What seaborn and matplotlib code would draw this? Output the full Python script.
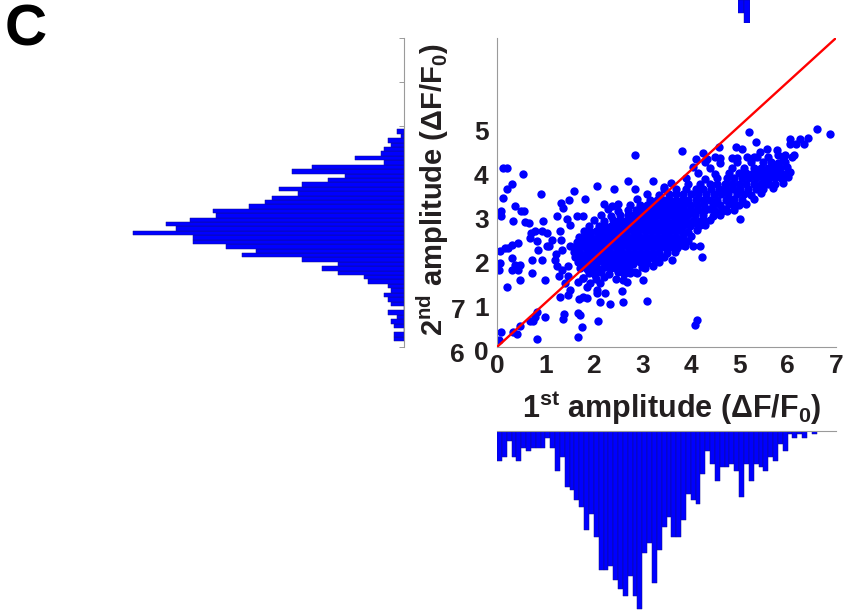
import numpy as np
import matplotlib
matplotlib.use("Agg")
import matplotlib.pyplot as plt
import matplotlib.transforms as mtransforms
import seaborn as sns

# ---------------- data ----------------
# histogram of 1st amplitude (bins of 0.1 from 0)
bottom_counts = [9, 8, 3, 8, 9, 5, 6, 5, 5, 5, 2, 5, 12, 8, 17, 18, 21, 23, 30, 25,
                 32, 42, 42, 41, 45, 48, 50, 44, 50, 54, 37, 34, 46, 36, 29, 26, 32, 32, 27, 19,
                 21, 22, 13, 6, 10, 15, 11, 11, 10, 12, 20, 10, 15, 10, 11, 12, 8, 9, 4, 6,
                 1, 2, 1, 2, 0, 1]
# histogram of 2nd amplitude (bins of 0.1 from 0.13, low to high)
left_counts = [3, 3, 0, 3, 4, 2, 5, 0, 4, 5, 6, 4, 5, 11, 12, 20, 25, 20, 31, 49,
               45, 54, 64, 64, 82, 69, 72, 65, 57, 58, 47, 42, 40, 32, 38, 31, 23, 18, 34, 28,
               6, 15, 7, 6, 4, 5, 1, 2]
top_counts = [4, 7]

cluster_pts = [
    (1.78, 1.57), (2.05, 1.53), (2.20, 1.58), (2.45, 1.55), (2.60, 1.52),
    (1.90, 1.68), (2.02, 1.64), (2.15, 1.70), (2.32, 1.66), (2.50, 1.69), (2.62, 1.65), (2.85, 1.70),
    (1.72, 1.80), (1.85, 1.76), (1.98, 1.79), (2.10, 1.77), (2.22, 1.81), (2.36, 1.78), (2.48, 1.76),
    (2.60, 1.80), (2.73, 1.77), (3.05, 1.79),
    (1.68, 1.92), (1.80, 1.89), (1.92, 1.90), (2.05, 1.88), (2.18, 1.92), (2.30, 1.90), (2.43, 1.89),
    (2.55, 1.91), (2.68, 1.90), (2.80, 1.88), (2.95, 1.92), (3.10, 1.90), (3.35, 1.93),
    (1.62, 2.03), (1.75, 2.01), (1.88, 2.02), (2.00, 2.02), (2.12, 2.02), (2.25, 2.02), (2.38, 2.02),
    (2.50, 2.02), (2.63, 2.02), (2.76, 2.02), (2.88, 2.02), (3.00, 2.02), (3.12, 2.04), (3.25, 2.00),
    (3.45, 2.05),
    (1.60, 2.15), (1.72, 2.13), (1.85, 2.14), (1.97, 2.14), (2.10, 2.14), (2.22, 2.14), (2.35, 2.14),
    (2.47, 2.14), (2.60, 2.14), (2.72, 2.14), (2.85, 2.14), (2.97, 2.14), (3.10, 2.14), (3.22, 2.14),
    (3.35, 2.14), (3.50, 2.12), (3.68, 2.16),
    (1.58, 2.26), (1.70, 2.27), (1.82, 2.26), (1.95, 2.26), (2.07, 2.26), (2.20, 2.26), (2.32, 2.26),
    (2.45, 2.26), (2.57, 2.26), (2.70, 2.26), (2.82, 2.26), (2.95, 2.26), (3.07, 2.26), (3.20, 2.26),
    (3.32, 2.26), (3.45, 2.26), (3.58, 2.26), (3.72, 2.25), (3.88, 2.28),
    (1.65, 2.38), (1.77, 2.39), (1.90, 2.38), (2.02, 2.38), (2.15, 2.38), (2.27, 2.38), (2.40, 2.38),
    (2.52, 2.38), (2.65, 2.38), (2.77, 2.38), (2.90, 2.38), (3.02, 2.38), (3.15, 2.38), (3.27, 2.38),
    (3.40, 2.38), (3.52, 2.38), (3.65, 2.38), (3.80, 2.37), (3.95, 2.40),
    (1.70, 2.50), (1.83, 2.51), (1.95, 2.50), (2.08, 2.50), (2.20, 2.50), (2.33, 2.50), (2.45, 2.50),
    (2.58, 2.50), (2.70, 2.50), (2.83, 2.50), (2.95, 2.50), (3.08, 2.50), (3.20, 2.50), (3.33, 2.50),
    (3.45, 2.50), (3.58, 2.50), (3.70, 2.50), (3.85, 2.49), (4.00, 2.52),
    (1.80, 2.63), (1.92, 2.61), (2.05, 2.62), (2.17, 2.62), (2.30, 2.62), (2.42, 2.62), (2.55, 2.62),
    (2.67, 2.62), (2.80, 2.62), (2.92, 2.62), (3.05, 2.62), (3.17, 2.62), (3.30, 2.62), (3.42, 2.62),
    (3.55, 2.62), (3.67, 2.62), (3.80, 2.62), (3.95, 2.61), (4.12, 2.64),
    (1.90, 2.75), (2.10, 2.73), (2.22, 2.74), (2.35, 2.74), (2.47, 2.74), (2.60, 2.74), (2.72, 2.74),
    (2.85, 2.74), (2.97, 2.74), (3.10, 2.74), (3.22, 2.74), (3.35, 2.74), (3.47, 2.74), (3.60, 2.74),
    (3.72, 2.74), (3.85, 2.74), (3.98, 2.74), (4.15, 2.73), (4.30, 2.76),
    (2.00, 2.88), (2.20, 2.85), (2.40, 2.87), (2.52, 2.86), (2.65, 2.86), (2.77, 2.86), (2.90, 2.86),
    (3.02, 2.86), (3.15, 2.86), (3.27, 2.86), (3.40, 2.86), (3.52, 2.86), (3.65, 2.86), (3.77, 2.86),
    (3.90, 2.86), (4.05, 2.86), (4.20, 2.85), (4.40, 2.88),
    (2.15, 2.99), (2.35, 2.97), (2.55, 2.98), (2.70, 2.98), (2.82, 2.98), (2.95, 2.98), (3.07, 2.98),
    (3.20, 2.98), (3.32, 2.98), (3.45, 2.98), (3.57, 2.98), (3.70, 2.98), (3.82, 2.98), (3.95, 2.98),
    (4.08, 2.98), (4.25, 2.98), (4.45, 2.97), (4.60, 3.00),
    (2.30, 3.12), (2.50, 3.09), (2.70, 3.11), (2.88, 3.10), (3.00, 3.10), (3.12, 3.10), (3.25, 3.10),
    (3.37, 3.10), (3.50, 3.10), (3.62, 3.10), (3.75, 3.10), (3.87, 3.10), (4.00, 3.10), (4.15, 3.10),
    (4.30, 3.10), (4.50, 3.09), (4.70, 3.12), (4.90, 3.10),
    (2.20, 3.24), (2.38, 3.20), (2.50, 3.23), (2.75, 3.21), (2.95, 3.22), (3.10, 3.22), (3.22, 3.22),
    (3.35, 3.22), (3.47, 3.22), (3.60, 3.22), (3.72, 3.22), (3.85, 3.22), (3.98, 3.22), (4.12, 3.22),
    (4.28, 3.22), (4.45, 3.22), (4.60, 3.21), (4.80, 3.24), (5.00, 3.22), (5.15, 3.25),
    (2.90, 3.35), (3.15, 3.33), (3.30, 3.34), (3.45, 3.34), (3.57, 3.34), (3.70, 3.34), (3.82, 3.34),
    (3.95, 3.34), (4.10, 3.34), (4.25, 3.34), (4.40, 3.34), (4.55, 3.34), (4.72, 3.33), (4.90, 3.35),
    (5.05, 3.34), (5.30, 3.36),
    (3.10, 3.47), (3.35, 3.45), (3.55, 3.46), (3.70, 3.46), (3.85, 3.46), (4.00, 3.46), (4.15, 3.46),
    (4.32, 3.46), (4.48, 3.46), (4.62, 3.46), (4.78, 3.46), (4.95, 3.46), (5.10, 3.46), (5.25, 3.45),
    (5.45, 3.48),
    (3.45, 3.59), (3.70, 3.57), (3.90, 3.58), (4.10, 3.58), (4.25, 3.58), (4.42, 3.58), (4.58, 3.58),
    (4.72, 3.58), (4.88, 3.58), (5.02, 3.58), (5.18, 3.58), (5.35, 3.58), (5.50, 3.57), (5.70, 3.60),
    (3.60, 3.71), (3.95, 3.69), (4.20, 3.70), (4.40, 3.70), (4.55, 3.70), (4.70, 3.70), (4.85, 3.70),
    (5.00, 3.70), (5.15, 3.70), (5.30, 3.70), (5.45, 3.70), (5.60, 3.70), (5.75, 3.69), (5.90, 3.72),
    (3.90, 3.83), (4.30, 3.81), (4.55, 3.82), (4.75, 3.82), (4.90, 3.82), (5.05, 3.82), (5.20, 3.82),
    (5.35, 3.82), (5.50, 3.82), (5.62, 3.82), (5.75, 3.82), (5.88, 3.81), (6.00, 3.84),
    (4.15, 3.95), (4.50, 3.93), (4.80, 3.94), (5.00, 3.94), (5.15, 3.94), (5.28, 3.94), (5.42, 3.94),
    (5.55, 3.94), (5.68, 3.94), (5.80, 3.94), (5.92, 3.93), (6.05, 3.96),
    (4.05, 4.07), (4.40, 4.05), (4.85, 4.06), (5.10, 4.06), (5.30, 4.06), (5.45, 4.06), (5.60, 4.06),
    (5.72, 4.06), (5.85, 4.05), (5.98, 4.08),
    (4.30, 4.19), (4.60, 4.17), (4.95, 4.18), (5.25, 4.18), (5.50, 4.18), (5.65, 4.18), (5.80, 4.17),
    (5.95, 4.20),
    (4.50, 4.31), (4.85, 4.29), (5.30, 4.30), (5.60, 4.31), (5.90, 4.29), (6.10, 4.30),
]

outlier_pts = [
    (5.21, 4.88), (6.60, 4.93), (6.88, 4.82), (6.04, 4.72), (6.26, 4.72), (6.43, 4.73), (6.33, 4.61),
    (6.18, 4.59), (6.05, 4.59), (5.34, 4.64), (4.94, 4.54), (5.06, 4.49), (4.58, 4.54), (3.83, 4.44),
    (2.84, 4.36), (4.26, 4.39), (4.10, 4.25), (4.33, 4.27), (4.61, 4.29), (4.95, 4.29), (5.16, 4.30),
    (5.37, 4.31), (5.57, 4.49), (5.43, 4.42), (5.78, 4.46), (5.81, 4.34), (5.95, 4.34), (6.14, 4.34),
    (6.01, 3.93), (5.78, 3.89), (5.60, 3.73), (5.02, 2.90), (4.04, 2.28), (4.19, 2.28), (4.23, 2.03),
    (3.61, 1.98), (3.23, 3.76), (2.71, 3.76), (2.42, 3.57), (2.06, 3.64), (1.59, 3.53), (1.82, 3.36),
    (1.49, 3.33), (1.32, 3.27), (0.90, 3.46), (0.54, 3.91), (0.13, 4.06), (0.21, 4.06), (0.32, 3.70),
    (0.21, 3.57), (0.13, 3.38), (0.37, 3.20), (0.49, 3.08), (0.56, 3.08), (0.08, 3.08), (0.08, 2.96),
    (0.34, 2.85), (0.58, 2.83), (0.67, 2.81), (0.70, 2.58), (0.79, 2.62), (0.92, 2.62), (1.03, 2.58),
    (0.96, 2.85), (1.30, 2.62), (1.44, 2.89), (1.51, 2.77), (1.65, 2.96), (1.78, 2.96), (1.23, 2.96),
    (1.37, 3.15), (1.13, 2.43), (1.08, 2.28), (1.32, 2.43), (1.34, 2.19), (1.21, 2.11), (1.51, 2.28),
    (1.20, 1.98), (1.23, 1.83), (1.34, 1.75), (1.47, 1.83), (1.27, 1.60), (1.47, 1.60), (1.40, 1.45),
    (1.30, 1.14), (1.47, 1.18), (1.51, 1.30), (1.68, 1.48), (1.78, 1.56), (1.92, 1.45), (1.85, 1.37),
    (1.70, 1.08), (1.78, 1.14), (1.85, 1.11), (2.06, 1.22), (2.06, 1.30), (2.13, 1.45), (2.23, 1.22),
    (2.33, 0.98), (2.13, 1.01), (2.58, 1.26), (2.61, 1.03), (2.68, 1.48), (3.02, 1.51), (3.09, 1.05),
    (2.75, 1.67), (2.89, 1.67), (2.99, 1.81), (3.23, 1.83), (3.33, 1.98), (4.13, 0.61), (4.08, 0.50),
    (1.68, 0.78), (1.71, 0.73), (1.38, 0.75), (1.37, 0.64), (1.75, 0.46), (1.68, 0.23), (2.09, 0.58),
    (0.99, 0.67), (0.79, 0.67), (0.82, 0.80), (0.74, 0.58), (0.48, 0.48), (0.68, 0.58), (0.41, 0.30),
    (0.34, 0.35), (0.08, 0.35), (0.05, 0.16), (0.82, 0.17), (0.06, 2.17), (0.06, 1.90), (0.05, 1.75),
    (0.17, 2.24), (0.23, 2.24), (0.30, 2.30), (0.44, 2.36), (0.30, 2.02), (0.37, 1.86), (0.48, 1.86),
    (0.32, 1.75), (0.44, 1.75), (0.48, 1.52), (0.20, 1.37), (0.72, 1.67), (0.72, 1.98), (0.85, 2.20),
    (0.99, 1.52), (0.92, 1.98), (1.04, 2.28), (0.82, 2.39), (0.68, 2.47), (4.40, 3.13), (4.26, 2.89),
    (4.19, 2.77), (4.09, 2.81), (3.82, 2.32), (3.51, 2.58), (3.71, 2.43), (4.77, 3.36), (4.64, 3.08),
    (4.75, 3.08), (4.92, 3.19), (3.44, 3.63), (2.85, 3.58),
]

amp1 = [p[0] for p in cluster_pts + outlier_pts]
amp2 = [p[1] for p in cluster_pts + outlier_pts]
unity = [0, 7]
x_ticks = [0, 1, 2, 3, 4, 5, 6, 7]
y_ticks = [0, 1, 2, 3, 4, 5]
ghost_ticks = [6, 7]

bin_w = 0.1
bottom_start = 0.0
left_start = 0.13

# ---------------- style ----------------
sns.set_theme(style="white")
plt.rcParams["font.family"] = ["Liberation Sans", "DejaVu Sans"]
plt.rcParams["font.weight"] = "bold"
plt.rcParams["mathtext.default"] = "regular"

BLUE = "#0000FF"
EDGE = "#10108a"
SPINE = "#9a9a9a"
TXT = "#231F20"
TICK_FS = 19
XLABEL_FS = 22
YLABEL_FS = 21

W, H = 843, 614
fig = plt.figure(figsize=(W / 100, H / 100), dpi=100)


def px_axes(l, t, r, b):
    return fig.add_axes([l / W, 1 - b / H, (r - l) / W, (b - t) / H])


# ---------------- scatter ----------------
ax = px_axes(497, 38, 836, 347)
sns.scatterplot(x=amp1, y=amp2, ax=ax, color=BLUE, s=36, linewidth=0, zorder=2)
sns.lineplot(x=unity, y=unity, ax=ax, color="red", linewidth=1.7, zorder=3)
ax.set_xlim(0, 7)
ax.set_ylim(0, 7)
ax.set_xticks(x_ticks)
ax.set_yticks(y_ticks)
for s in ["top", "right"]:
    ax.spines[s].set_visible(False)
for s in ["left", "bottom"]:
    ax.spines[s].set_color(SPINE)
    ax.spines[s].set_linewidth(0.8)
ax.tick_params(direction="in", length=3.5, width=0.7, color=SPINE,
               labelsize=TICK_FS, labelcolor=TXT)
ax.tick_params(axis="y", pad=6.0)
ax.tick_params(axis="x", pad=5.0)
shift = mtransforms.ScaledTranslation(0, -4 / 100, fig.dpi_scale_trans)
for lab in ax.get_yticklabels():
    lab.set_transform(lab.get_transform() + shift)
ax.set_xlabel(r"1$^{st}$ amplitude ($\Delta$F/F$_{0}$)", fontsize=XLABEL_FS, color=TXT, weight="bold")
ax.set_ylabel(r"2$^{nd}$ amplitude ($\Delta$F/F$_{0}$)", fontsize=YLABEL_FS, color=TXT, weight="bold")
ax.yaxis.label.set(ha="center", va="center", rotation_mode="anchor")
ax.xaxis.label.set(ha="center", va="center")
ax.yaxis.set_label_coords(-0.19, 0.51)
ax.xaxis.set_label_coords(0.516, -0.197)

# ---------------- bottom histogram ----------------
axb = px_axes(497, 431, 836, 614)
edges_b = [bottom_start + i * bin_w for i in range(len(bottom_counts) + 1)]
centers_b = [bottom_start + (i + 0.5) * bin_w for i in range(len(bottom_counts))]
sns.histplot(x=centers_b, weights=bottom_counts, bins=edges_b, ax=axb, color=BLUE,
             alpha=1, edgecolor=EDGE, linewidth=0.35)
axb.set_xlim(0, 7)
axb.set_ylim(183 / 3.3, 0)
for s in ["bottom", "left", "right"]:
    axb.spines[s].set_visible(False)
axb.spines["top"].set_color(SPINE)
axb.spines["top"].set_linewidth(0.8)
axb.set_xticks([])
axb.set_yticks([])
axb.set_xlabel("")
axb.set_ylabel("")

# ---------------- left histogram ----------------
axl = px_axes(130, 38, 404, 347)
edges_l = [left_start + i * bin_w for i in range(len(left_counts) + 1)]
centers_l = [left_start + (i + 0.5) * bin_w for i in range(len(left_counts))]
sns.histplot(y=centers_l, weights=left_counts, bins=edges_l, ax=axl, color=BLUE,
             alpha=1, edgecolor=EDGE, linewidth=0.35)
axl.set_ylim(0, 7)
axl.set_xlim(274 / 3.3, 0)
for s in ["top", "bottom", "left"]:
    axl.spines[s].set_visible(False)
axl.spines["right"].set_color(SPINE)
axl.spines["right"].set_linewidth(0.8)
axl.set_xticks([])
axl.yaxis.tick_right()
axl.set_yticks(x_ticks)
axl.tick_params(axis="y", direction="in", length=3.5, width=0.7, color=SPINE,
                labelright=False, labelleft=False)
axl.set_xlabel("")
axl.set_ylabel("")

# ---------------- stray top bars ----------------
axt = px_axes(738, 0, 750, 23)
axt.bar([0.5, 1.5], top_counts, width=1.0, color=BLUE, edgecolor=EDGE, linewidth=0.3)
axt.set_xlim(0, 2)
axt.set_ylim(7, 0)
axt.axis("off")

# ---------------- ghost tick labels 6 / 7 ----------------
axg = px_axes(472, 308, 473, 352)
axg.set_ylim(6, 7)
axg.set_yticks(ghost_ticks)
axg.set_xticks([])
for s in axg.spines.values():
    s.set_visible(False)
axg.patch.set_alpha(0)
axg.tick_params(axis="y", direction="out", length=3, width=0.7, color="#555555",
                labelsize=TICK_FS, labelcolor=TXT, pad=2)

# ---------------- panel letter ----------------
fig.text(5 / W, 1 - 4 / H, "C", fontsize=42, weight="bold", color="black",
         ha="left", va="top")

fig.savefig("out.png", dpi=100)
